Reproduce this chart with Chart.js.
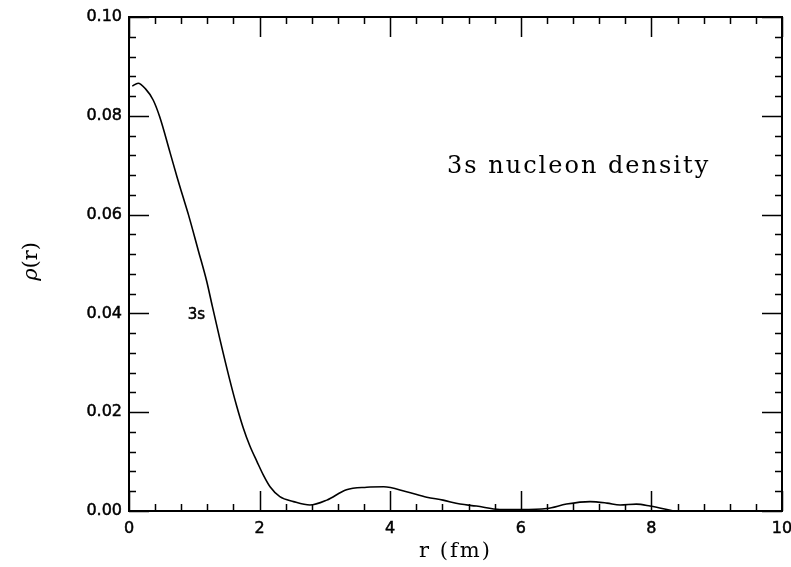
<!DOCTYPE html>
<html>
<head>
<meta charset="utf-8">
<script src="https://cdn.jsdelivr.net/npm/chart.js@4"></script>
<style>
  body { margin: 0; background: #fff; }
  #wrap { width: 791px; height: 567px; position: relative; }
</style>
</head>
<body>
<div id="wrap"><canvas id="rhoChart" width="791" height="567"></canvas></div>
<script>
// data
const rValues = [0.05, 0.14, 0.25, 0.37, 0.47, 0.63, 0.74, 0.82, 0.91, 1.06, 1.19, 1.27, 1.39, 1.54, 1.65, 1.75, 1.85, 1.96,
  2.06, 2.16, 2.31, 2.52, 2.77, 3.03, 3.33, 3.64, 3.90, 4.25, 4.56, 4.81, 5.07, 5.32, 5.68, 6.00, 6.40,
  6.70, 7.06, 7.32, 7.52, 7.77, 7.98, 8.34];
const rhoValues = [0.0860, 0.0866, 0.0855, 0.0832, 0.0798, 0.0725, 0.0674, 0.0639, 0.0600, 0.0528, 0.0465, 0.0418, 0.0349, 0.0267, 0.0212, 0.0168, 0.0132, 0.0100,
  0.0072, 0.0049, 0.0029, 0.0019, 0.0012, 0.0022, 0.0043, 0.0048, 0.0049, 0.0039, 0.0028, 0.0022, 0.0014, 0.0010, 0.0003, 0.0003, 0.0005,
  0.0014, 0.0019, 0.0016, 0.0012, 0.0014, 0.0010, 0.0];
const xTicks = [0, 2, 4, 6, 8, 10];
const xTickLabels = ['0', '2', '4', '6', '8', '10'];
const yTicks = [0, 0.02, 0.04, 0.06, 0.08, 0.10];
const yTickLabels = ['0.00', '0.02', '0.04', '0.06', '0.08', '0.10'];

const points = rValues.map((r, i) => ({ x: r, y: rhoValues[i] }));

// Frame, inward ticks and labels, drawn from the chart scales
const framePlugin = {
  id: 'frame',
  afterDraw(chart) {
    const ctx = chart.ctx;
    const xs = chart.scales.x, ys = chart.scales.y;
    const a = chart.chartArea;
    ctx.save();
    ctx.strokeStyle = '#000';
    ctx.lineWidth = 2;
    ctx.strokeRect(a.left, a.top, a.right - a.left, a.bottom - a.top);

    ctx.lineWidth = 1.5;
    ctx.beginPath();
    // x ticks (major every 2, minor every 0.4)
    for (let k = 0; k <= 25; k++) {
      const v = k * 0.4;
      const px = Math.round(xs.getPixelForValue(v)) + 0.5;
      const len = (k % 5 === 0) ? 20 : 7;
      ctx.moveTo(px, a.bottom); ctx.lineTo(px, a.bottom - len);
      ctx.moveTo(px, a.top); ctx.lineTo(px, a.top + len);
    }
    // y ticks (major every 0.02, minor every 0.004)
    for (let k = 0; k <= 25; k++) {
      const v = k * 0.004;
      const py = Math.round(ys.getPixelForValue(v)) + 0.5;
      const len = (k % 5 === 0) ? 20 : 7;
      ctx.moveTo(a.left, py); ctx.lineTo(a.left + len, py);
      ctx.moveTo(a.right, py); ctx.lineTo(a.right - len, py);
    }
    ctx.stroke();

    ctx.fillStyle = '#000';
    ctx.strokeStyle = '#000';
    ctx.lineWidth = 0.5;
    ctx.font = '16px "DejaVu Sans"';
    ctx.textAlign = 'center';
    ctx.textBaseline = 'middle';
    xTicks.forEach((v, i) => {
      const px = xs.getPixelForValue(v);
      ctx.fillText(xTickLabels[i], px, a.bottom + 18);
      ctx.strokeText(xTickLabels[i], px, a.bottom + 18);
    });
    ctx.textAlign = 'right';
    yTicks.forEach((v, i) => {
      const py = ys.getPixelForValue(v);
      ctx.fillText(yTickLabels[i], a.left - 7, py);
      ctx.strokeText(yTickLabels[i], a.left - 7, py);
    });

    // axis titles
    ctx.font = '21px "DejaVu Serif"';
    ctx.textAlign = 'center';
    ctx.letterSpacing = '2px';
    ctx.fillText('r (fm)', xs.getPixelForValue(5), a.bottom + 41);
    ctx.letterSpacing = '0px';
    ctx.save();
    ctx.translate(32, ys.getPixelForValue(0.0495));
    ctx.rotate(-Math.PI / 2);
    ctx.font = 'italic 21px "DejaVu Serif"';
    ctx.textAlign = 'right';
    ctx.fillText('\u03c1', -2, 0);
    ctx.font = '21px "DejaVu Serif"';
    ctx.textAlign = 'left';
    ctx.fillText('(r)', -2, 0);
    ctx.restore();

    // annotations
    ctx.font = '24px "DejaVu Serif"';
    ctx.textAlign = 'left';
    ctx.letterSpacing = '2px';
    ctx.fillText('3s nucleon density', xs.getPixelForValue(4.87), ys.getPixelForValue(0.0697));
    ctx.letterSpacing = '0px';
    ctx.font = '15px "DejaVu Sans"';
    ctx.fillText('3s', xs.getPixelForValue(0.9), ys.getPixelForValue(0.0397));
    ctx.strokeText('3s', xs.getPixelForValue(0.9), ys.getPixelForValue(0.0397));
    ctx.restore();
  }
};

new Chart(document.getElementById('rhoChart').getContext('2d'), {
  type: 'line',
  data: {
    datasets: [{
      data: points,
      borderColor: '#000',
      borderWidth: 1.6,
      pointRadius: 0,
      fill: false,
      cubicInterpolationMode: 'monotone'
    }]
  },
  options: {
    responsive: false,
    animation: false,
    layout: { padding: { left: 129, top: 17, right: 9, bottom: 56 } },
    plugins: { legend: { display: false }, tooltip: { enabled: false } },
    scales: {
      x: { type: 'linear', min: 0, max: 10, display: false },
      y: { type: 'linear', min: 0, max: 0.10, display: false }
    }
  },
  plugins: [framePlugin]
});
</script>
</body>
</html>
